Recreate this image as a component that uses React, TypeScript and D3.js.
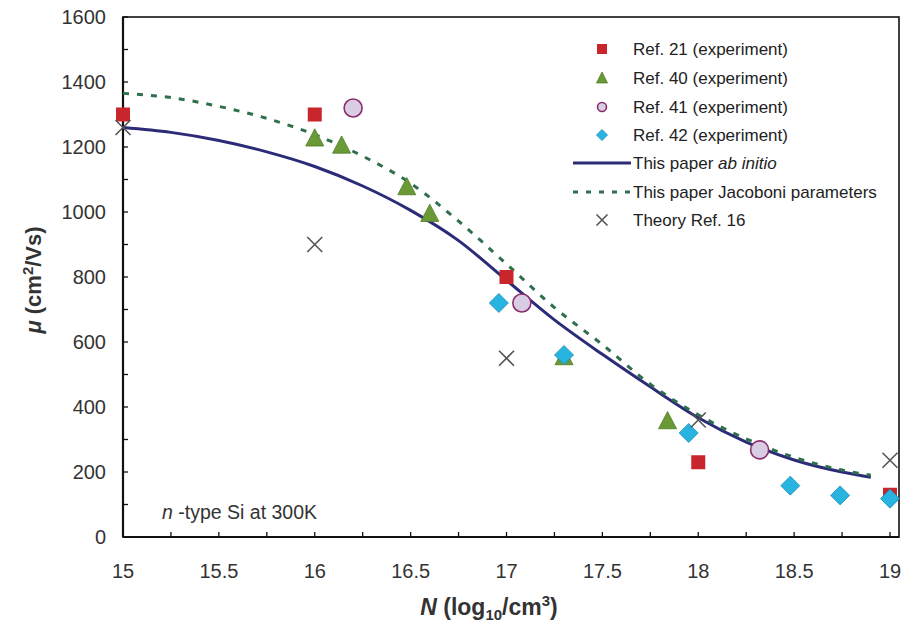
import { useEffect } from 'react';
import * as d3 from 'd3';

// Ref. 21 (experiment) - red squares
const ref21N = [15, 16, 17, 18, 19];
const ref21Mu = [1300, 1300, 800, 230, 130];

// Ref. 40 (experiment) - green triangles
const ref40N = [16.0, 16.14, 16.48, 16.6, 17.3, 17.84];
const ref40Mu = [1228, 1206, 1078, 996, 555, 358];

// Ref. 41 (experiment) - circles
const ref41N = [16.2, 17.08, 18.32];
const ref41Mu = [1320, 720, 268];

// Ref. 42 (experiment) - diamonds
const ref42N = [16.96, 17.3, 17.95, 18.48, 18.74, 19.0];
const ref42Mu = [720, 560, 320, 158, 128, 118];

// Theory Ref. 16 - crosses
const theoryN = [15, 16, 17, 18, 19];
const theoryMu = [1260, 900, 550, 360, 236];

// This paper ab initio
const abInitioN = [15, 15.25, 15.5, 15.75, 16, 16.25, 16.5, 16.75, 17, 17.25, 17.5, 17.75, 18, 18.25, 18.5, 18.75, 18.9];
const abInitioMu = [1260, 1245, 1220, 1185, 1140, 1080, 1005, 912, 790, 668, 562, 462, 367, 292, 237, 200, 184];

// This paper Jacoboni parameters
const jacoN = [15, 15.25, 15.5, 15.75, 16, 16.25, 16.5, 16.75, 17, 17.25, 17.5, 17.75, 18, 18.25, 18.5, 18.75, 18.9];
const jacoMu = [1365, 1352, 1325, 1288, 1238, 1172, 1088, 972, 840, 706, 592, 470, 376, 302, 245, 206, 190];

const xTicks = [15, 15.5, 16, 16.5, 17, 17.5, 18, 18.5, 19];
const yTicks = [0, 200, 400, 600, 800, 1000, 1200, 1400, 1600];

const legendLabels = [
  'Ref. 21 (experiment)',
  'Ref. 40 (experiment)',
  'Ref. 41 (experiment)',
  'Ref. 42 (experiment)',
];

const W = 902;
const H = 628;
const FONT = '"Liberation Sans", Arial, sans-serif';

const zip = (a: number[], b: number[]) => a.map((v, i) => [v, b[i]] as [number, number]);

const C = {
  sq: '#c9252d',
  tri: '#6a9a36',
  triStroke: '#4d7a25',
  circ: '#d8cde2',
  circStroke: '#8a2d6e',
  dia: '#27b4e0',
  diaStroke: '#1b8bb3',
  cross: '#555',
  blue: '#2b2b78',
  green: '#2f6f4c',
};

function Square({ x, y, s }: { x: number; y: number; s: number }) {
  return <rect x={x - s / 2} y={y - s / 2} width={s} height={s} fill={C.sq} />;
}
function Triangle({ x, y, s }: { x: number; y: number; s: number }) {
  const h = s * 0.9;
  return (
    <path
      d={`M${x},${y - h / 2 - 1}L${x + s / 2},${y + h / 2}L${x - s / 2},${y + h / 2}Z`}
      fill={C.tri}
      stroke={C.triStroke}
      strokeWidth={0.8}
    />
  );
}
function Circle({ x, y, r }: { x: number; y: number; r: number }) {
  return <circle cx={x} cy={y} r={r} fill={C.circ} stroke={C.circStroke} strokeWidth={1.6} />;
}
function Diamond({ x, y, r }: { x: number; y: number; r: number }) {
  return (
    <path
      d={`M${x},${y - r}L${x + r},${y}L${x},${y + r}L${x - r},${y}Z`}
      fill={C.dia}
      stroke={C.diaStroke}
      strokeWidth={0.8}
    />
  );
}
function Cross({ x, y, r }: { x: number; y: number; r: number }) {
  return (
    <path
      d={`M${x - r},${y - r}L${x + r},${y + r}M${x - r},${y + r}L${x + r},${y - r}`}
      stroke={C.cross}
      strokeWidth={1.6}
      fill="none"
    />
  );
}

export default function App() {
  useEffect(() => {
    document.body.style.margin = '0';
  }, []);

  const x = d3.scaleLinear().domain([15, 19]).range([123, 890]);
  const y = d3.scaleLinear().domain([0, 1600]).range([537, 17]);
  const right = 899;

  const line = d3
    .line<[number, number]>()
    .x((d) => x(d[0]))
    .y((d) => y(d[1]))
    .curve(d3.curveMonotoneX);

  const xMinor = d3.range(15, 19.001, 0.25);
  const yMinor = d3.range(0, 1601, 100);

  const legendRows = [49, 78, 107, 135, 163, 192, 220];
  const lgX = 602;
  const lgT = 633;
  const legendFont = 17;

  return (
    <svg width={W} height={H} style={{ display: 'block', background: '#fff' }} fontFamily={FONT}>
      {/* frame */}
      <rect x={x(15)} y={y(1600)} width={right - x(15)} height={y(0) - y(1600)} fill="none" stroke="#111" strokeWidth={1.6} />
      <line x1={x(15)} x2={x(15)} y1={y(1600)} y2={y(0)} stroke="#111" strokeWidth={2.2} />
      <line x1={x(15)} x2={right} y1={y(0)} y2={y(0)} stroke="#111" strokeWidth={2.2} />

      {/* ticks */}
      {xMinor.map((t) => (
        <line key={'xt' + t} x1={x(t)} x2={x(t)} y1={y(0)} y2={y(0) - 5} stroke="#111" strokeWidth={1.3} />
      ))}
      {yMinor.map((t) => (
        <line key={'yt' + t} x1={x(15)} x2={x(15) + 5} y1={y(t)} y2={y(t)} stroke="#111" strokeWidth={1.3} />
      ))}

      {/* tick labels */}
      {xTicks.map((t) => (
        <text key={'xl' + t} x={x(t)} y={578} textAnchor="middle" fontSize={20} fill="#333">
          {t}
        </text>
      ))}
      {yTicks.map((t) => (
        <text key={'yl' + t} x={106} y={y(t)} dy="0.36em" textAnchor="end" fontSize={20} fill="#333">
          {t}
        </text>
      ))}

      {/* axis titles */}
      <text x={489} y={615} textAnchor="middle" fontSize={23} fontWeight="bold" fill="#333">
        <tspan fontStyle="italic">N</tspan>
        <tspan> (log</tspan>
        <tspan fontSize={15} dy={5}>10</tspan>
        <tspan dy={-5}>/cm</tspan>
        <tspan fontSize={15} dy={-9}>3</tspan>
        <tspan dy={9}>)</tspan>
      </text>
      <text transform="translate(41,280) rotate(-90)" textAnchor="middle" fontSize={22} fontWeight="bold" fill="#333">
        <tspan fontStyle="italic">μ</tspan>
        <tspan> (cm</tspan>
        <tspan fontSize={15} dy={-8}>2</tspan>
        <tspan dy={8}>/Vs)</tspan>
      </text>

      {/* annotation */}
      <text x={162} y={519} fontSize={19.5} fill="#333">
        <tspan fontStyle="italic">n</tspan>
        <tspan> -type Si at 300K</tspan>
      </text>

      {/* curves */}
      <path d={line(zip(abInitioN, abInitioMu)) || ''} fill="none" stroke={C.blue} strokeWidth={3} />
      <path d={line(zip(jacoN, jacoMu)) || ''} fill="none" stroke={C.green} strokeWidth={3} strokeDasharray="6,8" />

      {/* points */}
      {zip(ref21N, ref21Mu).map(([n, m], i) => (
        <Square key={'s' + i} x={x(n)} y={y(m)} s={14} />
      ))}
      {zip(ref40N, ref40Mu).map(([n, m], i) => (
        <Triangle key={'t' + i} x={x(n)} y={y(m)} s={18} />
      ))}
      {zip(ref41N, ref41Mu).map(([n, m], i) => (
        <Circle key={'c' + i} x={x(n)} y={y(m)} r={9} />
      ))}
      {zip(ref42N, ref42Mu).map(([n, m], i) => (
        <Diamond key={'d' + i} x={x(n)} y={y(m)} r={9.5} />
      ))}
      {zip(theoryN, theoryMu).map(([n, m], i) => (
        <Cross key={'x' + i} x={x(n)} y={y(m)} r={7.5} />
      ))}

      {/* legend */}
      <Square x={lgX} y={legendRows[0]} s={10} />
      <Triangle x={lgX} y={legendRows[1]} s={11} />
      <Circle x={lgX} y={legendRows[2]} r={4.5} />
      <Diamond x={lgX} y={legendRows[3]} r={5.5} />
      <line x1={573} x2={631} y1={legendRows[4]} y2={legendRows[4]} stroke={C.blue} strokeWidth={3} />
      <line x1={573} x2={633} y1={legendRows[5]} y2={legendRows[5]} stroke={C.green} strokeWidth={3} strokeDasharray="5,8" />
      <Cross x={lgX} y={legendRows[6]} r={5.5} />
      {legendLabels.map((s, i) => (
        <text key={'lg' + i} x={lgT} y={legendRows[i]} dy="0.36em" fontSize={legendFont} fill="#222">
          {s}
        </text>
      ))}
      <text x={lgT} y={legendRows[4]} dy="0.36em" fontSize={legendFont} fill="#222">
        This paper <tspan fontStyle="italic">ab initio</tspan>
      </text>
      <text x={lgT} y={legendRows[5]} dy="0.36em" fontSize={legendFont} fill="#222">
        This paper Jacoboni parameters
      </text>
      <text x={lgT} y={legendRows[6]} dy="0.36em" fontSize={legendFont} fill="#222">
        Theory Ref. 16
      </text>
    </svg>
  );
}
